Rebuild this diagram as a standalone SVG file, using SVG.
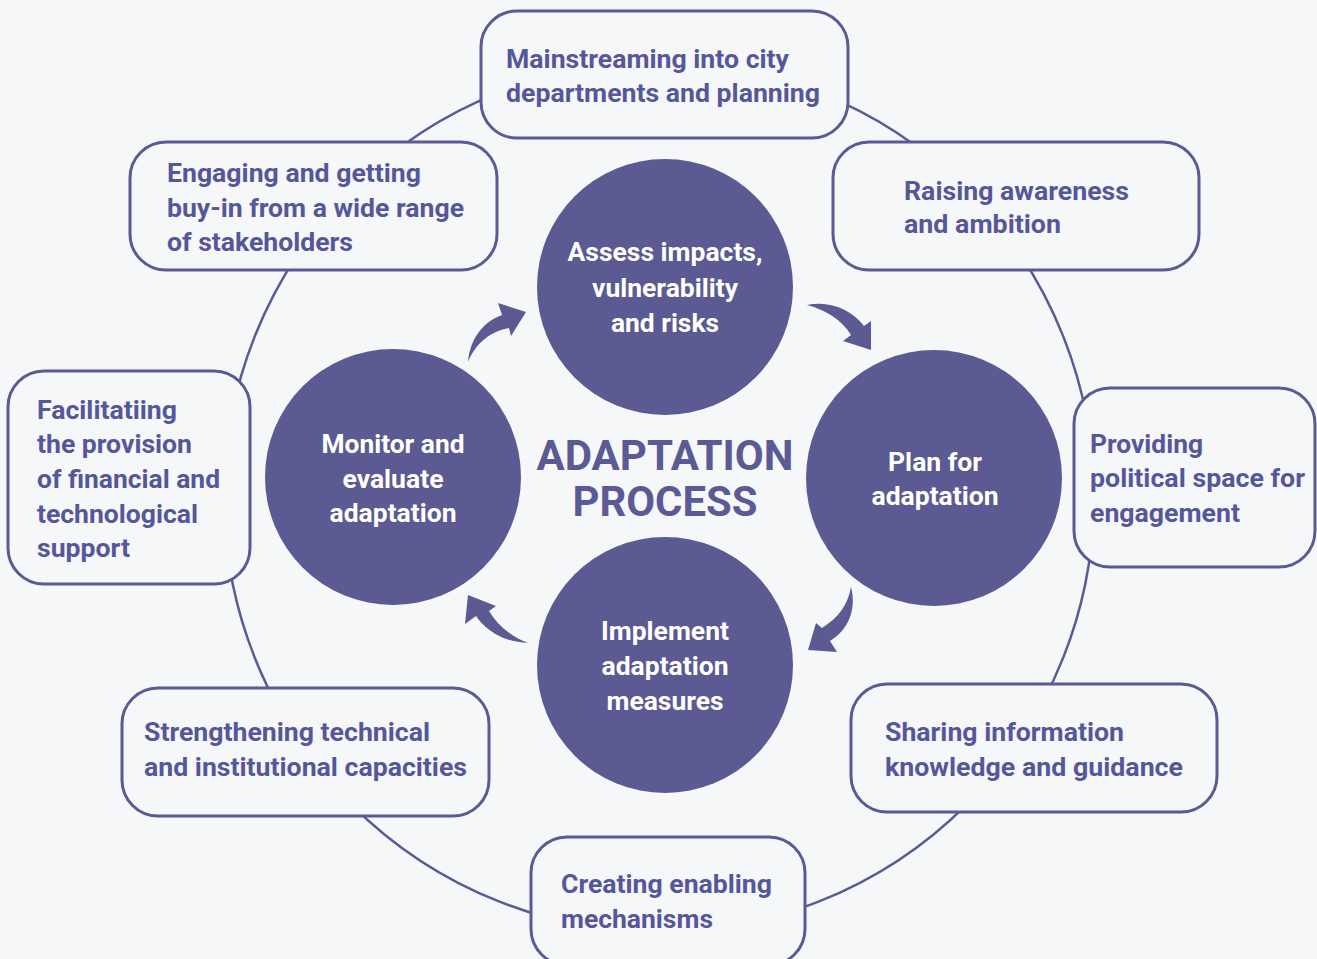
<svg xmlns="http://www.w3.org/2000/svg" width="1317" height="959" viewBox="0 0 1317 959">
<defs>
<style>
.bg{fill:#f5f7f9}
.ring{fill:none;stroke:#5b5a94;stroke-width:2.5}
.box{fill:#f5f7f9;stroke:#5b5a94;stroke-width:3}
.circ{fill:#5b5a92}
.arr{fill:#5b5a92}
.bt{font-family:Roboto,"Liberation Sans",sans-serif;font-weight:700;font-size:26px;fill:#56569a}
.ct{font-family:Roboto,"Liberation Sans",sans-serif;font-weight:700;font-size:26px;fill:#ffffff;text-anchor:middle}
.title{font-family:Roboto,"Liberation Sans",sans-serif;font-weight:700;font-size:42px;fill:#5b5a94;text-anchor:middle}
</style>
</defs>
<rect class="bg" x="0" y="0" width="1317" height="959"/>
<g id="connectors">
<circle class="ring" cx="659" cy="497" r="435"/>
<path class="arr" d="M468,362 C470,340 482,322 502,315 L498,303 L526,312 L511,336 L509,328 C492,331 476,342 468,362 Z"/>
<path class="arr" d="M807,305 C830,300 852,310 864,326 L871,321 L871,350 L843,341 L851,335 C842,320 826,310 807,305 Z"/>
<path class="arr" d="M851,587 C857,610 848,630 830,641 L837,652 L808,650 L816,623 L822,628 C838,618 848,605 851,587 Z"/>
<path class="arr" d="M528,643 C505,642 487,632 476,616 L465,624 L468,595 L496,606 L489,611 C498,626 512,637 528,643 Z"/>
</g>
<g id="box-mainstreaming">
<rect class="box" x="481" y="11" width="367" height="127" rx="36"/>
<text class="bt" x="506" y="68" textLength="283" lengthAdjust="spacingAndGlyphs">Mainstreaming into city</text>
<text class="bt" x="506" y="102" textLength="314" lengthAdjust="spacingAndGlyphs">departments and planning</text>
</g>
<g id="box-engaging">
<rect class="box" x="130" y="142" width="367" height="128" rx="36"/>
<text class="bt" x="167" y="182" textLength="254" lengthAdjust="spacingAndGlyphs">Engaging and getting</text>
<text class="bt" x="167" y="217" textLength="297" lengthAdjust="spacingAndGlyphs">buy-in from a wide range</text>
<text class="bt" x="167" y="251" textLength="186" lengthAdjust="spacingAndGlyphs">of stakeholders</text>
</g>
<g id="box-raising">
<rect class="box" x="833" y="142" width="366" height="128" rx="36"/>
<text class="bt" x="904" y="200" textLength="225" lengthAdjust="spacingAndGlyphs">Raising awareness</text>
<text class="bt" x="904" y="233" textLength="157" lengthAdjust="spacingAndGlyphs">and ambition</text>
</g>
<g id="box-facilitating">
<rect class="box" x="8" y="371" width="242" height="213" rx="36"/>
<text class="bt" x="37" y="419" textLength="140" lengthAdjust="spacingAndGlyphs">Facilitatiing</text>
<text class="bt" x="37" y="453" textLength="155" lengthAdjust="spacingAndGlyphs">the provision</text>
<text class="bt" x="37" y="488" textLength="183" lengthAdjust="spacingAndGlyphs">of financial and</text>
<text class="bt" x="37" y="523" textLength="161" lengthAdjust="spacingAndGlyphs">technological</text>
<text class="bt" x="37" y="557" textLength="93" lengthAdjust="spacingAndGlyphs">support</text>
</g>
<g id="box-providing">
<rect class="box" x="1074" y="388" width="241" height="179" rx="36"/>
<text class="bt" x="1090" y="453" textLength="113" lengthAdjust="spacingAndGlyphs">Providing</text>
<text class="bt" x="1090" y="487" textLength="215" lengthAdjust="spacingAndGlyphs">political space for</text>
<text class="bt" x="1090" y="522" textLength="150" lengthAdjust="spacingAndGlyphs">engagement</text>
</g>
<g id="box-strengthening">
<rect class="box" x="122" y="688" width="367" height="128" rx="36"/>
<text class="bt" x="144" y="741" textLength="286" lengthAdjust="spacingAndGlyphs">Strengthening technical</text>
<text class="bt" x="144" y="776" textLength="323" lengthAdjust="spacingAndGlyphs">and institutional capacities</text>
</g>
<g id="box-sharing">
<rect class="box" x="851" y="684" width="366" height="128" rx="36"/>
<text class="bt" x="885" y="741" textLength="239" lengthAdjust="spacingAndGlyphs">Sharing information</text>
<text class="bt" x="885" y="776" textLength="298" lengthAdjust="spacingAndGlyphs">knowledge and guidance</text>
</g>
<g id="box-creating">
<rect class="box" x="531" y="837" width="274" height="128" rx="36"/>
<text class="bt" x="561" y="893" textLength="211" lengthAdjust="spacingAndGlyphs">Creating enabling</text>
<text class="bt" x="561" y="928" textLength="152" lengthAdjust="spacingAndGlyphs">mechanisms</text>
</g>
<g id="node-assess">
<circle class="circ" cx="665" cy="287" r="128"/>
<text class="ct" x="665" y="261" textLength="195" lengthAdjust="spacingAndGlyphs">Assess impacts,</text>
<text class="ct" x="665" y="297" textLength="146" lengthAdjust="spacingAndGlyphs">vulnerability</text>
<text class="ct" x="665" y="332" textLength="108" lengthAdjust="spacingAndGlyphs">and risks</text>
</g>
<g id="node-plan">
<circle class="circ" cx="934" cy="478" r="128"/>
<text class="ct" x="935" y="471" textLength="94" lengthAdjust="spacingAndGlyphs">Plan for</text>
<text class="ct" x="935" y="505" textLength="127" lengthAdjust="spacingAndGlyphs">adaptation</text>
</g>
<g id="node-implement">
<circle class="circ" cx="665" cy="665" r="128"/>
<text class="ct" x="665" y="640" textLength="128" lengthAdjust="spacingAndGlyphs">Implement</text>
<text class="ct" x="665" y="675" textLength="127" lengthAdjust="spacingAndGlyphs">adaptation</text>
<text class="ct" x="665" y="710" textLength="117" lengthAdjust="spacingAndGlyphs">measures</text>
</g>
<g id="node-monitor">
<circle class="circ" cx="393" cy="477" r="128"/>
<text class="ct" x="393" y="453" textLength="143" lengthAdjust="spacingAndGlyphs">Monitor and</text>
<text class="ct" x="393" y="488" textLength="101" lengthAdjust="spacingAndGlyphs">evaluate</text>
<text class="ct" x="393" y="522" textLength="127" lengthAdjust="spacingAndGlyphs">adaptation</text>
</g>
<g id="title">
<text class="title" x="665" y="470" textLength="257" lengthAdjust="spacingAndGlyphs">ADAPTATION</text>
<text class="title" x="665" y="516" textLength="185" lengthAdjust="spacingAndGlyphs">PROCESS</text>
</g>
</svg>
